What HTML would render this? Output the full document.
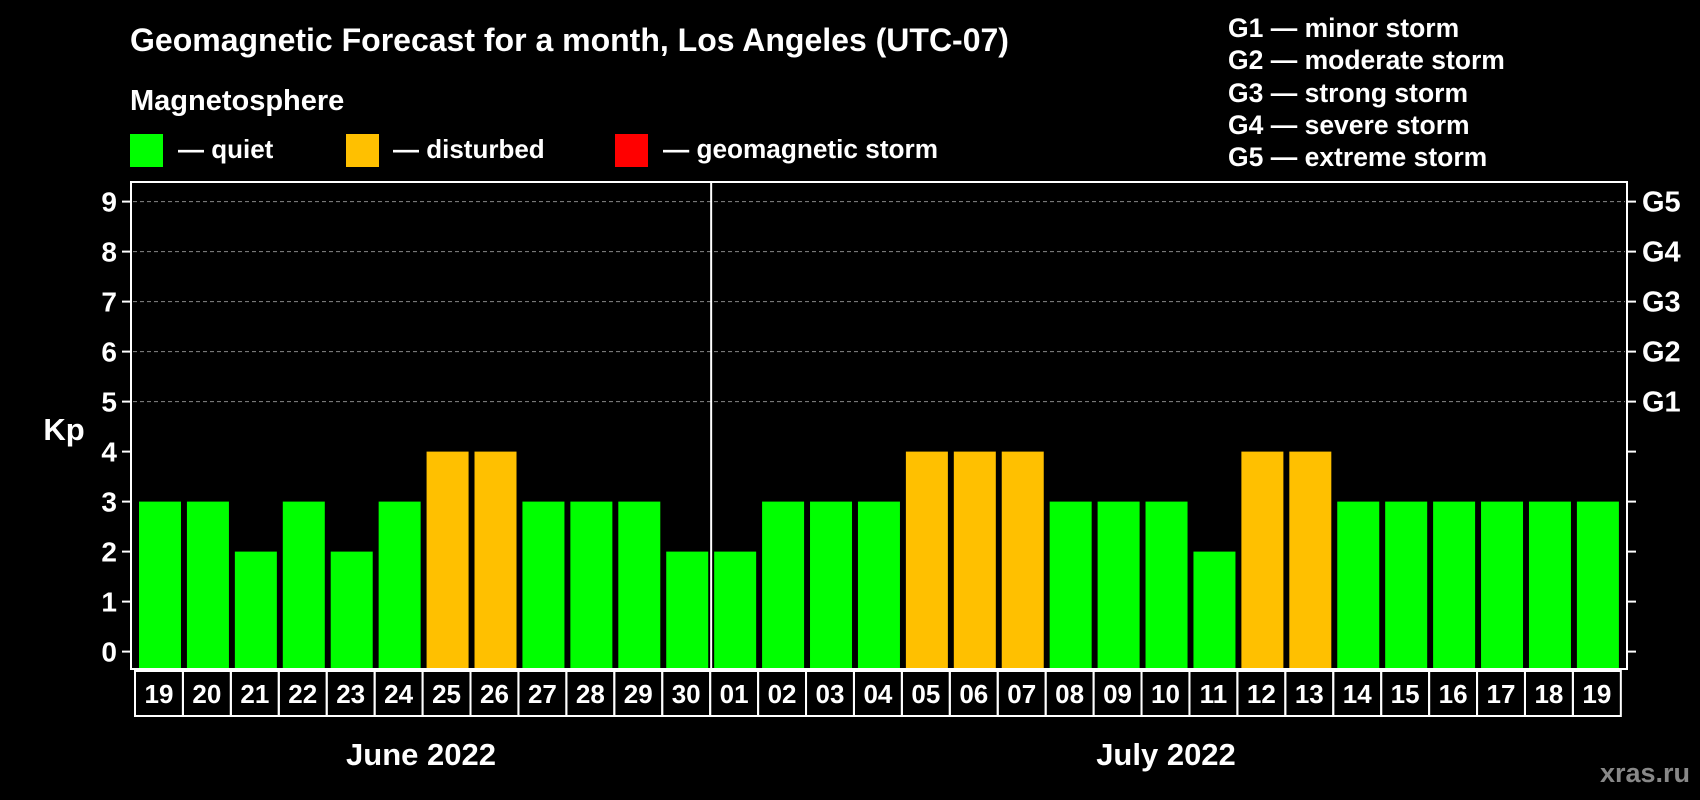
<!DOCTYPE html>
<html><head><meta charset="utf-8"><style>
body{margin:0;background:#000;width:1700px;height:800px;overflow:hidden}
svg{display:block;font-family:"Liberation Sans",Arial,sans-serif;font-weight:bold}
</style></head><body>
<svg id="c" width="1700" height="800">
<text x="130" y="51" fill="#fff" font-size="32">Geomagnetic Forecast for a month, Los Angeles (UTC-07)</text>
<text x="130" y="110" fill="#fff" font-size="29">Magnetosphere</text>
<rect x="130" y="134" width="33" height="33" fill="#00ff00"/>
<text x="178" y="158" fill="#fff" font-size="26">— quiet</text>
<rect x="346" y="134" width="33" height="33" fill="#ffc000"/>
<text x="393" y="158" fill="#fff" font-size="26">— disturbed</text>
<rect x="615" y="134" width="33" height="33" fill="#ff0000"/>
<text x="663" y="158" fill="#fff" font-size="26.2">— geomagnetic storm</text>
<g fill="#fff" font-size="26.5">
<text x="1228" y="37">G1 — minor storm</text>
<text x="1228" y="69">G2 — moderate storm</text>
<text x="1228" y="102">G3 — strong storm</text>
<text x="1228" y="134">G4 — severe storm</text>
<text x="1228" y="166">G5 — extreme storm</text>
</g>
<text x="64" y="440" fill="#fff" font-size="31" text-anchor="middle">Kp</text>
<text x="421" y="765" fill="#fff" font-size="31" text-anchor="middle">June 2022</text>
<text x="1166" y="765" fill="#fff" font-size="31" text-anchor="middle">July 2022</text>
<text x="1690" y="782" fill="#888" font-size="27" text-anchor="end">xras.ru</text>
<g id="plot"></g>
</svg>
<script>
const days=["19","20","21","22","23","24","25","26","27","28","29","30","01","02","03","04","05","06","07","08","09","10","11","12","13","14","15","16","17","18","19"];
const kp=[3,3,2,3,2,3,4,4,3,3,3,2,2,3,3,3,4,4,4,3,3,3,2,4,4,3,3,3,3,3,3];
const yTicks=[0,1,2,3,4,5,6,7,8,9];
const gLabels=["","","","","","G1","G2","G3","G4","G5"];
const NS="http://www.w3.org/2000/svg";
const g=document.getElementById('plot');
const L=131,R=1627,T=182,B=669,y0=651.6,unit=50,x0=139,pitch=47.93,bw=42;
const y=v=>y0-v*unit;
function mk(t,a){const e=document.createElementNS(NS,t);for(const k in a)e.setAttribute(k,a[k]);g.appendChild(e);return e;}
yTicks.forEach(v=>{
 if(v>=5){const l=mk('line',{x1:L+2,x2:R-2,y1:y(v),y2:y(v),stroke:'#888','stroke-dasharray':'4,3','stroke-width':1});
 
 }
 const t1=mk('line',{x1:L-9,x2:L,y1:y(v),y2:y(v),stroke:'#fff','stroke-width':2});
 
 
 const t2=mk('line',{x1:R,x2:R+9,y1:y(v),y2:y(v),stroke:'#fff','stroke-width':2});
 
 
 const tx=mk('text',{x:117,y:y(v)+10,fill:'#fff','font-size':28,'text-anchor':'end'});tx.textContent=v;
 
 
 if(gLabels[v]){const gt=mk('text',{x:1642,y:y(v)+10,fill:'#fff','font-size':29});gt.textContent=gLabels[v];
 
 }
});
kp.forEach((v,i)=>{
 const c=v>=5?'#ff0000':v>=4?'#ffc000':'#00ff00';
 const r=mk('rect',{x:x0+i*pitch,y:y(v),width:bw,height:B-1-y(v),fill:c});
 
 
});
const box=mk('rect',{x:L,y:T,width:R-L,height:B-T,fill:'none',stroke:'#fff','stroke-width':2});


const sep=days.indexOf("01");
const sx=x0+sep*pitch-3;
const sl=mk('line',{x1:sx,x2:sx,y1:T,y2:B,stroke:'#fff','stroke-width':2});


days.forEach((d,i)=>{
 const cx=135+i*pitch;
 const r=mk('rect',{x:cx,y:671,width:pitch,height:45,fill:'none',stroke:'#fff','stroke-width':2});
 
 
 const t=mk('text',{x:cx+pitch/2,y:703,fill:'#fff','font-size':26,'text-anchor':'middle'});t.textContent=d;
 
 
});
</script>
</body></html>
